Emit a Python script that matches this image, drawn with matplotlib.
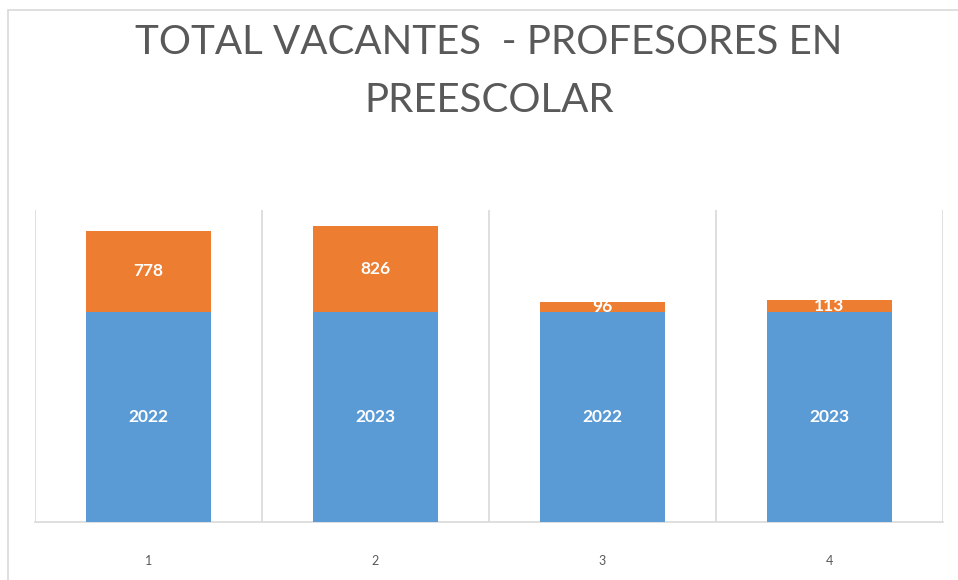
import matplotlib.pyplot as plt
from matplotlib.patches import Rectangle

categories = ["1", "2", "3", "4"]
base_values = [2022, 2023, 2022, 2023]
vacantes = [778, 826, 96, 113]

BLUE = "#5b9bd5"
ORANGE = "#ed7d31"
GRID = "#d9d9d9"
TEXT = "#595959"

fig = plt.figure(figsize=(9.58, 5.80), dpi=100)
fig.add_artist(Rectangle((8 / 958, -0.1), 1.2, 1 - 10 / 580 + 0.1,
                         transform=fig.transFigure, fill=False,
                         edgecolor="#d9d9d9", linewidth=1.2))

ax = fig.add_axes([35 / 958, 58 / 580, 908 / 958, 312 / 580])
x = list(range(1, len(categories) + 1))

bars1 = ax.bar(x, base_values, width=0.555, color=BLUE, zorder=3)
bars2 = ax.bar(x, vacantes, width=0.555, bottom=base_values, color=ORANGE, zorder=3)

# etiquetas blancas en el centro de cada segmento
for rects, vals in [(bars1, base_values), (bars2, vacantes)]:
    for rect, v in zip(rects, vals):
        ax.text(rect.get_x() + rect.get_width() / 2, rect.get_y() + rect.get_height() / 2,
                str(v), ha="center", va="center", color="white", fontsize=12.5,
                fontweight="bold", family="Lato", zorder=4)

ax.set_xlim(0.5, 4.5)
ax.set_ylim(0, 3000)
ax.set_xticks(x)
ax.set_xticklabels(categories, color=TEXT, fontsize=9, family="Lato")
ax.tick_params(axis="x", which="both", length=0, pad=24)
ax.set_yticks([])
ax.set_xticks([0.5, 1.5, 2.5, 3.5, 4.5], minor=True)
ax.grid(True, axis="x", which="minor", color=GRID, linewidth=1.2, zorder=0)
ax.grid(False, axis="x", which="major")
for side in ["top", "left", "right"]:
    ax.spines[side].set_visible(False)
ax.spines["bottom"].set_color(GRID)
ax.spines["bottom"].set_linewidth(1.2)

fig.text(489 / 958, 1 - 42 / 580, "TOTAL VACANTES  - PROFESORES EN",
         ha="center", va="center", fontsize=29, color=TEXT, family="Lato")
fig.text(489 / 958, 1 - 100 / 580, "PREESCOLAR",
         ha="center", va="center", fontsize=29, color=TEXT, family="Lato")

fig.savefig("out.png", dpi=100)
